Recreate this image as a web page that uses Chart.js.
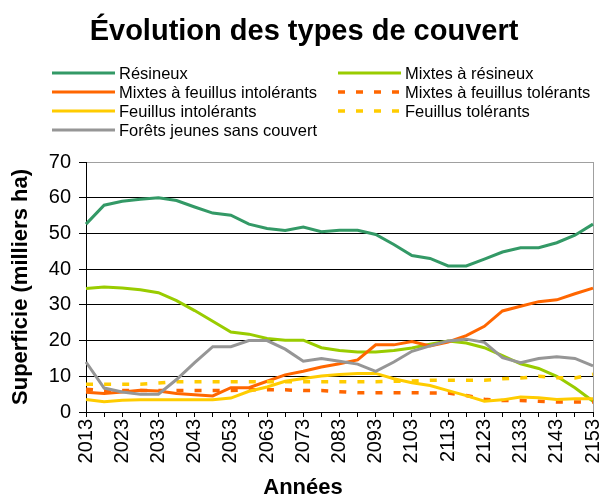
<!DOCTYPE html>
<html>
<head>
<meta charset="utf-8">
<script src="https://cdn.jsdelivr.net/npm/chart.js@4"></script>
<style>
  body { margin: 0; background: #fff; font-family: "Liberation Sans", Arial, sans-serif; }
  #wrap { position: relative; width: 601px; height: 497px; overflow: hidden; }
  #chart { position: absolute; left: 0; top: 0; }
  #title { position: absolute; left: 0; width: 608px; top: 13px; text-align: center; font-weight: bold; font-size: 29px; line-height: 34px; color: #000; }
  #xtitle { position: absolute; left: 0; width: 606px; top: 474px; text-align: center; font-weight: bold; font-size: 22px; line-height: 26px; color: #000; }
  .item { position: absolute; height: 19px; display: flex; align-items: center; font-size: 16.5px; color: #000; white-space: nowrap; }
  .item svg { margin-right: 4px; }
</style>
</head>
<body>
<div id="wrap">
  <canvas id="chart" width="601" height="497"></canvas>
  <div id="title">Évolution des types de couvert</div>
  <div id="xtitle">Années</div>
  <div id="legend"></div>
</div>
<script>
// années (pas de 5 ans)
const years = ['2013', '2018', '2023', '2028', '2033', '2038', '2043', '2048', '2053', '2058',
  '2063', '2068', '2073', '2078', '2083', '2088', '2093', '2098', '2103', '2108',
  '2113', '2118', '2123', '2128', '2133', '2138', '2143', '2148', '2153'];

// superficie en milliers d'ha
const resineux = [52.6, 57.9, 59.0, 59.6, 60.0, 59.2, 57.4, 55.7, 55.1, 52.6, 51.4, 50.8, 51.8, 50.5, 50.9,
  50.9, 49.7, 46.9, 43.8, 43.0, 40.9, 40.9, 42.8, 44.8, 46.0, 46.0, 47.4, 49.5, 52.6];
const mixtesResineux = [34.6, 35.0, 34.7, 34.2, 33.4, 31.2, 28.4, 25.4, 22.4, 21.8, 20.6, 20.1, 20.1, 18.0, 17.2,
  16.8, 16.8, 17.2, 17.9, 19.0, 19.9, 19.3, 18.0, 15.8, 13.5, 12.2, 10.0, 6.8, 3.0];
const mixtesFeuillusIntol = [5.5, 5.2, 5.6, 6.1, 5.9, 5.2, 4.8, 4.5, 6.8, 6.8, 8.6, 10.4, 11.4, 12.6, 13.5,
  14.6, 18.8, 18.8, 19.7, 18.5, 19.6, 21.4, 24.0, 28.3, 29.6, 30.9, 31.4, 33.1, 34.7];
const mixtesFeuillusTol = [6.4, 6.0, 6.0, 6.0, 6.0, 6.0, 6.0, 6.0, 6.0, 6.2, 6.2, 6.2, 6.0, 6.0, 5.7,
  5.4, 5.4, 5.4, 5.4, 5.3, 5.3, 4.6, 3.6, 3.2, 3.2, 3.0, 2.8, 2.8, 2.8];
const feuillusIntol = [3.5, 2.9, 3.3, 3.4, 3.4, 3.4, 3.4, 3.4, 3.9, 5.8, 7.0, 8.6, 9.4, 10.1, 10.5,
  10.8, 10.8, 9.3, 8.2, 7.4, 6.0, 4.6, 3.0, 3.4, 4.2, 4.0, 3.5, 3.7, 3.7];
const feuillusTol = [7.8, 7.8, 7.8, 7.8, 8.1, 8.5, 8.5, 8.5, 8.5, 8.5, 8.5, 8.5, 8.5, 8.5, 8.5,
  8.5, 8.5, 8.6, 8.7, 8.9, 8.9, 8.9, 8.9, 9.3, 9.5, 10.0, 9.6, 9.5, 10.6];
const foretsJeunes = [14.0, 6.7, 5.6, 5.0, 5.0, 9.1, 13.8, 18.3, 18.3, 20.0, 20.0, 17.6, 14.2, 15.0, 14.2,
  13.4, 11.4, 14.0, 17.0, 18.5, 19.9, 20.4, 19.5, 15.2, 13.8, 15.0, 15.5, 15.0, 12.9];

const series = [
  { label: 'Résineux', data: resineux, color: '#339966', dash: [] },
  { label: 'Mixtes à résineux', data: mixtesResineux, color: '#99CC00', dash: [] },
  { label: 'Mixtes à feuillus intolérants', data: mixtesFeuillusIntol, color: '#FF6600', dash: [] },
  { label: 'Mixtes à feuillus tolérants', data: mixtesFeuillusTol, color: '#FF6600', dash: [7, 11.1] },
  { label: 'Feuillus intolérants', data: feuillusIntol, color: '#FFCC00', dash: [] },
  { label: 'Feuillus tolérants', data: feuillusTol, color: '#FFCC00', dash: [7, 11.1] },
  { label: 'Forêts jeunes sans couvert', data: foretsJeunes, color: '#969696', dash: [] }
];

Chart.defaults.font.family = "'Liberation Sans', Arial, sans-serif";
Chart.defaults.color = '#000';

const ctx = document.getElementById('chart').getContext('2d');
const chart = new Chart(ctx, {
  type: 'line',
  data: {
    labels: years,
    datasets: series.map((s, i) => ({
      label: s.label,
      data: s.data,
      borderColor: s.color,
      backgroundColor: s.color,
      borderWidth: s.dash.length ? 3.5 : 3,
      borderDash: s.dash,
      borderCapStyle: 'butt',
      pointRadius: 0,
      tension: 0,
      fill: false,
      order: series.length - i
    }))
  },
  options: {
    responsive: false,
    animation: false,
    layout: { padding: { top: 162, right: 8, left: 0, bottom: 0 } },
    plugins: {
      legend: { display: false },
      title: { display: false },
      tooltip: { enabled: false }
    },
    scales: {
      x: {
        grid: {
          color: c => c.index === years.length - 1 ? '#a0a0a0' : 'rgba(0,0,0,0)',
          tickColor: '#000',
          tickLength: 5
        },
        border: { color: '#000' },
        ticks: {
          autoSkip: false,
          minRotation: 90,
          maxRotation: 90,
          padding: 2,
          font: { size: 20 },
          callback: (v, i) => i % 2 === 0 ? years[i] : ''
        },
        afterFit: s => { s.height = 85; s.paddingLeft = 0; s.paddingRight = 0; }
      },
      y: {
        min: 0,
        max: 70,
        ticks: { stepSize: 10, font: { size: 20 }, padding: 8 },
        grid: {
          color: c => c.tick.value === 70 ? '#a0a0a0' : '#000',
          tickColor: '#000',
          tickLength: 7
        },
        border: { color: '#000' },
        title: {
          display: true,
          text: 'Superficie (milliers ha)',
          font: { size: 22, weight: 'bold' },
          padding: { top: 8, bottom: 0 }
        },
        afterFit: s => { s.width = 86; }
      }
    }
  }
});

// légende sur deux colonnes
const cols = [52, 338];
const rows = [73, 92, 111, 130];
const legend = document.getElementById('legend');
chart.data.datasets.forEach((ds, i) => {
  const item = document.createElement('div');
  item.className = 'item';
  item.style.left = cols[i % 2] + 'px';
  item.style.top = (rows[Math.floor(i / 2)] - 9.5) + 'px';
  const dash = ds.borderDash.length ? ' stroke-dasharray="7 11"' : '';
  item.innerHTML = '<svg width="63" height="6"><line x1="0" y1="3" x2="63" y2="3" stroke="' +
    ds.borderColor + '" stroke-width="' + ds.borderWidth + '"' + dash + '/></svg><span>' + ds.label + '</span>';
  legend.appendChild(item);
});
</script>
</body>
</html>
